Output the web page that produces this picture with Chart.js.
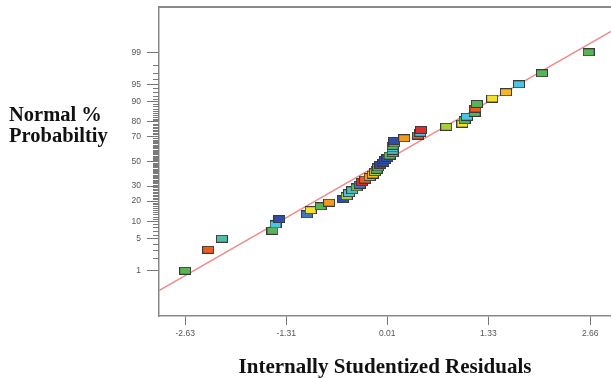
<!DOCTYPE html>
<html>
<head>
<meta charset="utf-8">
<script src="https://cdn.jsdelivr.net/npm/chart.js@4/dist/chart.umd.min.js"></script>
<style>
  html, body { margin:0; padding:0; background:#fff; overflow:hidden; }
  #wrap { position:relative; width:611px; height:378px; }
</style>
</head>
<body>
<div id="wrap"><canvas id="chart-npp"></canvas></div>
<script>
/* ---- data ---- */
// internally studentized residuals, sorted
const residuals = [
  -2.63, -2.33, -2.15, -1.49, -1.45, -1.40, -1.04, -0.99, -0.86, -0.75,
  -0.57, -0.52, -0.49, -0.45, -0.39, -0.35, -0.32, -0.28, -0.22, -0.18,
  -0.15, -0.13, -0.11, -0.08, -0.04, -0.02, 0.01, 0.04, 0.08, 0.08,
  0.08, 0.08, 0.10, 0.10, 0.23, 0.41, 0.44, 0.45, 0.78, 0.99,
  1.02, 1.05, 1.15, 1.16, 1.18, 1.38, 1.56, 1.73, 2.03, 2.64
];
// normal % probability of each point
const probs = [
  1, 3, 5, 7, 9, 11, 13, 15, 17, 19,
  21, 23, 25, 27, 29, 31, 33, 35, 37, 39,
  41, 43, 45, 47, 49, 51, 53, 55, 57, 59,
  61, 63, 65, 67, 69, 71, 73, 75, 77, 79,
  81, 83, 85, 87, 89, 91, 93, 95, 97, 99
];
const pointColors = [
  'green','orangered','teal','green','cyan','blue','steel','yellow','green','orange',
  'blue','yellowgreen','cyan','teal','green','steel','red','orangered','orange','gold',
  'yellowgreen','green','green','blue','blue','blue','blue','green','green','teal',
  'cyan','green','green','blue','orange','orangered','cyan','red','yellowgreen','yellow',
  'green','cyan','green','orangered','green','yellow','gold','cyan','green','green'
];
// fitted normal line, two ends
const fitX = [-2.972, 2.932];
const fitP = [0.3, 99.72];

const xTicks = [-2.63, -1.31, 0.01, 1.33, 2.66];
const yTicks = [1, 5, 10, 20, 30, 50, 70, 80, 90, 95, 99];

const palette = {
  blue:'#2f4fa8', steel:'#3f78c0', cyan:'#4cc4e4', teal:'#52bca6', green:'#58b454',
  yellowgreen:'#a6cf3a', yellow:'#f2e02a', gold:'#f5b820', orange:'#f39a1e',
  orangered:'#ef5a1f', red:'#d92f2a'
};

/* ---- inverse normal (Acklam) ---- */
function probit(p) {
  const a=[-3.969683028665376e+01,2.209460984245205e+02,-2.759285104469687e+02,1.383577518672690e+02,-3.066479806614716e+01,2.506628277459239e+00];
  const b=[-5.447609879822406e+01,1.615858368580409e+02,-1.556989798598866e+02,6.680131188771972e+01,-1.328068155288572e+01];
  const c=[-7.784894002430293e-03,-3.223964580411365e-01,-2.400758277161838e+00,-2.549732539343734e+00,4.374664141464968e+00,2.938163982698783e+00];
  const d=[7.784695709041462e-03,3.224671290700398e-01,2.445134137142996e+00,3.754408661907416e+00];
  const pl = 0.02425;
  let q, r;
  if (p < pl) {
    q = Math.sqrt(-2*Math.log(p));
    return (((((c[0]*q+c[1])*q+c[2])*q+c[3])*q+c[4])*q+c[5])/((((d[0]*q+d[1])*q+d[2])*q+d[3])*q+1);
  }
  if (p > 1-pl) {
    q = Math.sqrt(-2*Math.log(1-p));
    return -(((((c[0]*q+c[1])*q+c[2])*q+c[3])*q+c[4])*q+c[5])/((((d[0]*q+d[1])*q+d[2])*q+d[3])*q+1);
  }
  q = p-0.5; r = q*q;
  return (((((a[0]*r+a[1])*r+a[2])*r+a[3])*r+a[4])*r+a[5])*q/(((((b[0]*r+b[1])*r+b[2])*r+b[3])*r+b[4])*r+1);
}

/* ---- normal probability scale ---- */
class ProbitScale extends Chart.Scale {
  determineDataLimits() { this.min = this.options.min; this.max = this.options.max; }
  buildTicks() { return yTicks.map(v => ({ value: v })); }
  getLabelForValue(v) { return '' + v; }
  configure() {
    super.configure();
    this._zLo = probit(this.min / 100);
    this._zHi = probit(this.max / 100);
  }
  getPixelForValue(v) {
    return this.getPixelForDecimal((probit(v / 100) - this._zLo) / (this._zHi - this._zLo));
  }
  getValueForPixel() { return 50; }
}
ProbitScale.id = 'probit';
ProbitScale.defaults = {};
Chart.register(ProbitScale);

// little boxes used as point markers
function makeBox(color) {
  const c = document.createElement('canvas');
  c.width = 12; c.height = 8;
  const g = c.getContext('2d');
  g.fillStyle = color; g.fillRect(0.5, 0.5, 11, 7);
  g.strokeStyle = '#3a3a3a'; g.lineWidth = 1; g.strokeRect(0.5, 0.5, 11, 7);
  return c;
}
const boxes = pointColors.map(k => makeBox(palette[k]));

// minor probability ticks, top frame line, horizontal y title
const extras = {
  id: 'extras',
  afterDraw(chart) {
    const { ctx, chartArea } = chart;
    const ys = chart.scales.y;
    ctx.save();
    ctx.strokeStyle = '#7a7a7a'; ctx.lineWidth = 1;
    ctx.beginPath();
    for (let p = 1; p <= 99; p++) {
      if (yTicks.includes(p)) continue;
      const py = Math.round(ys.getPixelForValue(p)) + 0.5;
      ctx.moveTo(chartArea.left - 6, py); ctx.lineTo(chartArea.left, py);
    }
    ctx.stroke();
    ctx.strokeStyle = '#8a8a8a'; ctx.lineWidth = 2;
    ctx.beginPath();
    ctx.moveTo(chartArea.left - 0.75, chartArea.top); ctx.lineTo(chartArea.right, chartArea.top);
    ctx.stroke();
    ctx.fillStyle = '#111';
    ctx.font = "bold 20.5px 'Liberation Serif', serif";
    ctx.textBaseline = 'alphabetic'; ctx.textAlign = 'left';
    ctx.fillText('Normal %', 9, 121);
    ctx.fillText('Probabiltiy', 9, 142);
    ctx.restore();
  }
};

const tickFont = { family: "'Liberation Sans', Arial, sans-serif", size: 8.5 };

new Chart(document.getElementById('chart-npp'), {
  type: 'scatter',
  data: {
    datasets: [
      {
        type: 'line', order: 2,
        data: fitX.map((x, i) => ({ x, y: fitP[i] })),
        borderColor: '#f08a8a', borderWidth: 1.5, pointRadius: 0, fill: false
      },
      {
        order: 1,
        data: residuals.map((x, i) => ({ x, y: probs[i] })),
        pointStyle: ctx => boxes[ctx.dataIndex]
      }
    ]
  },
  options: {
    responsive: true, maintainAspectRatio: false, animation: false, events: [],
    layout: { autoPadding: false, padding: { top: 7, right: 0, bottom: 0, left: 0 } },
    plugins: { legend: { display: false }, tooltip: { enabled: false } },
    scales: {
      x: {
        type: 'linear', min: -2.972, max: 2.932,
        afterBuildTicks: s => { s.ticks = xTicks.map(v => ({ value: v })); },
        afterFit: s => { s.height = 62; s.paddingLeft = 0; s.paddingRight = 0; },
        ticks: { callback: v => v.toFixed(2), font: tickFont, color: '#555', padding: 4, autoSkip: false, maxRotation: 0 },
        grid: { display: true, drawOnChartArea: false, drawTicks: true, tickLength: 9, color: '#777' },
        border: { display: true, color: '#888', width: 1.5 },
        title: {
          display: true, text: 'Internally Studentized Residuals', color: '#111',
          font: { family: "'Liberation Serif', serif", size: 21, weight: 'bold', lineHeight: 1 },
          padding: { top: 0, bottom: 0 }
        }
      },
      y: {
        type: 'probit', position: 'left', min: 0.05, max: 99.95,
        afterFit: s => { s.width = 159; s.paddingTop = 0; s.paddingBottom = 0; },
        ticks: { font: tickFont, color: '#555', padding: 6, autoSkip: false },
        grid: { display: true, drawOnChartArea: false, drawTicks: true, tickLength: 12, color: '#777' },
        border: { display: true, color: '#888', width: 1.5 }
      }
    }
  },
  plugins: [extras]
});
</script>
</body>
</html>
